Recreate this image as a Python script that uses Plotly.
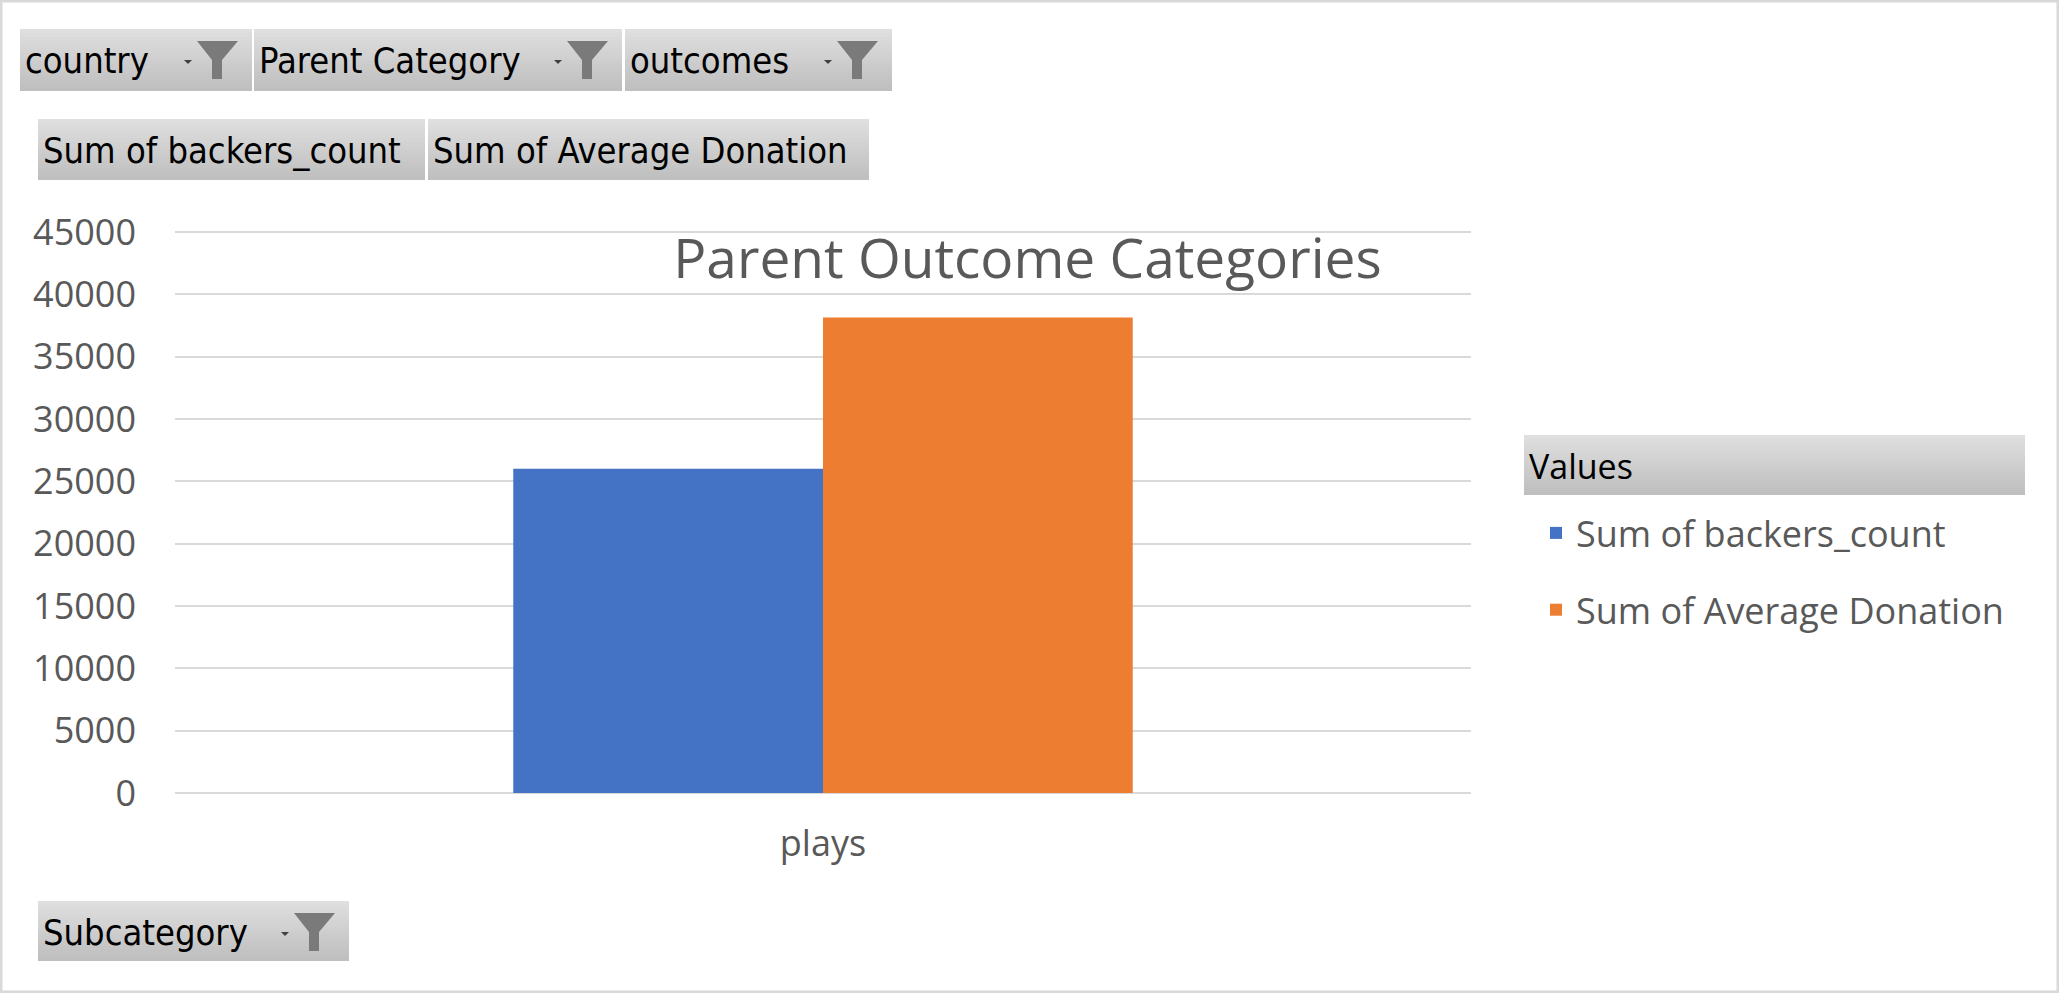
import plotly.graph_objects as go

W, H = 2059, 993

# pivot chart data
categories = ["plays"]
backers_count = [26000]
average_donation = [38150]
series_names = ["Sum of backers_count", "Sum of Average Donation"]
series_colors = ["#4472C4", "#ED7D31"]
y_ticks = [0, 5000, 10000, 15000, 20000, 25000, 30000, 35000, 40000, 45000]

# pivot field buttons
filter_fields = ["country", "Parent Category", "outcomes"]
value_fields = ["Sum of backers_count", "Sum of Average Donation"]
legend_field = "Values"
axis_field = "Subcategory"

TEXT_GREY = "#595959"
BODY_FONT = "Open Sans"
BUTTON_FONT = "Liberation Sans Narrow, DejaVu Sans Condensed, Roboto"


def px_x(v):
    return v / W


def px_y(v):
    return 1 - v / H


def field_button(fig, x0, x1, y0, y1, label, funnel=False, font=BUTTON_FONT, size=36):
    # grey vertical gradient, faked with thin bands
    n = 16
    for i in range(n):
        c = int(223 - 32 * i / (n - 1))
        fig.add_shape(
            type="rect", xref="paper", yref="paper",
            x0=px_x(x0), x1=px_x(x1),
            y0=px_y(y0 + (y1 - y0) * i / n), y1=px_y(min(y1, y0 + (y1 - y0) * (i + 1) / n + 1)),
            fillcolor=f"rgb({c},{c},{c})", line_width=0,
        )
    fig.add_annotation(
        text=label, xref="paper", yref="paper",
        x=px_x(x0 + 3), y=px_y((y0 + y1) / 2 + 1),
        xanchor="left", yanchor="middle", showarrow=False,
        font=dict(family=font, size=size, color="black"),
    )
    if funnel:
        r, t = x1, y0
        pts = [(r - 55, t + 12), (r - 14, t + 12), (r - 30, t + 31), (r - 30, t + 50),
               (r - 40, t + 50), (r - 40, t + 31)]
        path = "M " + " L ".join(f"{px_x(a):.5f},{px_y(b):.5f}" for a, b in pts) + " Z"
        fig.add_shape(type="path", xref="paper", yref="paper", path=path,
                      fillcolor="#7a7a7a", line_width=0)
        tri = [(r - 68, t + 31), (r - 60, t + 31), (r - 64, t + 35)]
        path = "M " + " L ".join(f"{px_x(a):.5f},{px_y(b):.5f}" for a, b in tri) + " Z"
        fig.add_shape(type="path", xref="paper", yref="paper", path=path,
                      fillcolor="#404040", line_width=0)


fig = go.Figure()
for name, vals, color in zip(series_names, [backers_count, average_donation], series_colors):
    fig.add_trace(go.Bar(
        x=categories, y=vals, name=name, legendgroup=name,
        marker=dict(color=color, line_width=0),
    ))

# a little headroom above 45000 so its gridline is drawn
y_top = 45100
top_px = 793 - (793 - 232) * y_top / 45000

fig.update_layout(
    width=W, height=H,
    margin=dict(l=0, r=0, t=0, b=0, pad=0),
    paper_bgcolor="white", plot_bgcolor="white",
    barmode="group", bargap=0.522, bargroupgap=0,
    font=dict(family=BODY_FONT, color=TEXT_GREY),
    title=dict(
        text="Parent Outcome Categories", x=0.499, xanchor="center",
        y=px_y(259), yanchor="middle",
        font=dict(family=BODY_FONT, size=55, color=TEXT_GREY),
    ),
    xaxis=dict(
        domain=[px_x(175), px_x(1471)], showgrid=False, showline=False, ticks="",
        tickfont=dict(size=36, color=TEXT_GREY), ticklabelstandoff=26, automargin=False,
    ),
    yaxis=dict(
        domain=[px_y(793), px_y(top_px)], range=[0, y_top], tickvals=y_ticks,
        tickformat="d",
        showgrid=True, gridcolor="#d9d9d9", gridwidth=2,
        zeroline=True, zerolinecolor="#d9d9d9", zerolinewidth=2,
        showline=False, ticks="", tickfont=dict(size=36, color=TEXT_GREY),
        ticklabelstandoff=38, automargin=False,
    ),
    legend=dict(
        x=px_x(1536), y=px_y(503), xanchor="left", yanchor="top",
        font=dict(family=BODY_FONT, size=36, color=TEXT_GREY),
        tracegroupgap=27, bgcolor="rgba(0,0,0,0)", itemwidth=30,
    ),
    showlegend=True,
)

# field buttons
row1 = [(20, 252), (254, 622), (625, 892)]
for (a, b), label in zip(row1, filter_fields):
    field_button(fig, a, b, 29, 91, label, funnel=True)
row2 = [(38, 425), (428, 869)]
for (a, b), label in zip(row2, value_fields):
    field_button(fig, a, b, 119, 180, label)
field_button(fig, 1524, 2025, 435, 495, legend_field, font=BODY_FONT, size=34)
field_button(fig, 38, 349, 901, 961, axis_field, funnel=True)

# outer chart border
fig.add_shape(type="rect", xref="paper", yref="paper", x0=0, x1=1, y0=0, y1=1,
              line=dict(color="#d9d9d9", width=5))

fig.write_html("out.html", config={"displayModeBar": False},
               post_script="document.body.style.margin='0';")
